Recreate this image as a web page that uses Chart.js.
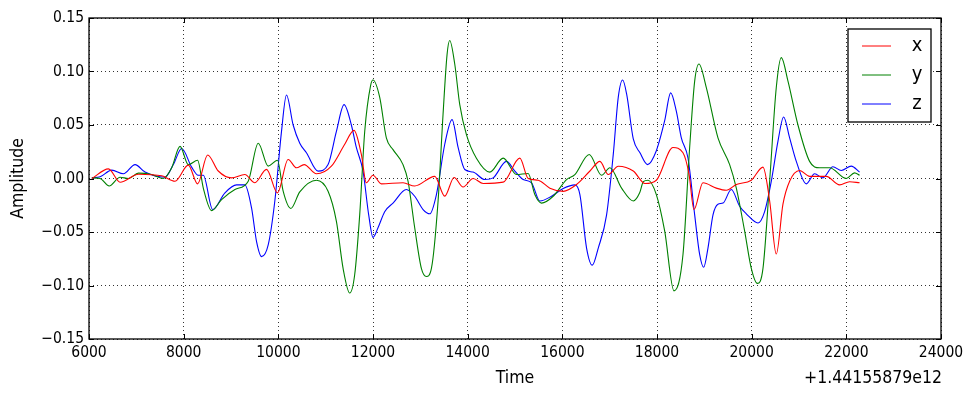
<!DOCTYPE html>
<html>
<head>
<meta charset="utf-8">
<script src="https://cdn.jsdelivr.net/npm/chart.js@4/dist/chart.umd.min.js"></script>
<style>
  html, body { margin: 0; padding: 0; background: #fff; }
  #wrap { width: 976px; height: 397px; }
</style>
</head>
<body>
<div id="wrap"><canvas id="chart" width="976" height="397"></canvas></div>
<script>
// time offsets (add 1.44155879e12) and amplitudes
const timeX = [6060, 6411, 6657, 7044, 7536, 7817, 8098, 8295, 8506, 8731, 9012, 9293, 9504, 9750, 9982, 10207, 10383, 10545, 10805, 11121, 11403, 11599, 11754, 11859, 12000, 12176, 12634, 12881, 13304, 13516, 13713, 13904, 14115, 14327, 14750, 15102, 15278, 15490, 15737, 16018, 16300, 16583, 16794, 16970, 17182, 17499, 17746, 17986, 18338, 18549, 18676, 18781, 18971, 19253, 19464, 19676, 19992, 20239, 20380, 20520, 20661, 20802, 21013, 21224, 21576, 21858, 22069, 22280];
const ampX = [0.0, 0.009, -0.0035, 0.004, 0.0025, -0.0025, 0.0125, -0.005, 0.022, 0.007, 0.0006, 0.0037, -0.004, 0.0085, -0.0134, 0.0178, 0.01, 0.013, 0.0044, 0.0115, 0.032, 0.045, 0.0225, -0.004, 0.003, -0.005, -0.004, -0.007, 0.002, -0.0165, 0.001, -0.008, 0.0, -0.0047, -0.0034, 0.019, 0.0, -0.0016, -0.009, -0.012, -0.0056, 0.007, 0.016, 0.0037, 0.0115, 0.007, -0.0047, -0.0016, 0.029, 0.024, 0.004, -0.029, -0.004, -0.009, -0.011, -0.0056, -0.0016, 0.0106, -0.021, -0.0706, -0.024, -0.0025, 0.0075, 0.002, 0.002, -0.006, -0.003, -0.004];

const timeY = [6060, 6235, 6425, 6657, 6833, 7044, 7325, 7571, 7747, 7923, 8098, 8295, 8415, 8590, 8801, 9083, 9364, 9575, 9786, 9982, 10102, 10264, 10453, 10805, 11051, 11227, 11368, 11508, 11613, 11719, 11825, 11950, 12000, 12141, 12282, 12423, 12634, 12740, 12881, 13022, 13128, 13234, 13375, 13480, 13565, 13621, 13727, 13833, 13974, 14185, 14468, 14750, 15032, 15278, 15419, 15560, 15807, 16089, 16265, 16568, 16829, 17005, 17252, 17499, 17634, 17711, 17810, 17986, 18162, 18359, 18549, 18690, 18796, 18887, 19042, 19288, 19535, 19676, 19851, 19992, 20119, 20239, 20380, 20520, 20626, 20767, 20978, 21224, 21435, 21646, 22000, 22174, 22280];
const ampY = [0.0006, 0.0, -0.007, 0.0012, 0.0, 0.005, 0.0037, 0.0, 0.01, 0.03, 0.013, 0.017, -0.009, -0.03, -0.0197, -0.0103, -0.0025, 0.033, 0.0116, 0.017, -0.0119, -0.028, -0.0125, -0.0016, -0.0119, -0.04, -0.084, -0.107, -0.09, -0.034, 0.044, 0.087, 0.092, 0.076, 0.038, 0.027, 0.013, -0.0025, -0.046, -0.084, -0.0916, -0.084, -0.021, 0.06, 0.116, 0.129, 0.107, 0.069, 0.041, 0.019, 0.006, 0.019, 0.0037, 0.0047, -0.015, -0.023, -0.0166, -0.001, 0.0037, 0.0225, 0.003, 0.01, -0.009, -0.021, -0.0134, -0.003, -0.0016, -0.015, -0.049, -0.105, -0.071, 0.029, 0.091, 0.107, 0.085, 0.038, 0.013, -0.009, -0.049, -0.084, -0.098, -0.084, -0.0025, 0.085, 0.113, 0.091, 0.05, 0.016, 0.01, 0.01, 0.0, 0.0053, 0.003];

const timeZ = [6060, 6235, 6481, 6727, 6974, 7184, 7606, 7782, 7958, 8169, 8309, 8415, 8612, 8872, 9118, 9293, 9434, 9540, 9645, 9786, 9926, 10067, 10172, 10313, 10453, 10594, 10840, 11051, 11227, 11389, 11543, 11648, 11789, 11909, 12000, 12106, 12247, 12423, 12705, 12881, 13058, 13199, 13340, 13516, 13671, 13798, 13939, 14115, 14362, 14538, 14820, 14997, 15173, 15349, 15525, 15772, 16018, 16265, 16371, 16512, 16632, 16759, 16935, 17076, 17182, 17274, 17358, 17499, 17640, 17800, 17986, 18162, 18289, 18408, 18514, 18655, 18796, 18901, 18986, 19077, 19183, 19288, 19394, 19570, 19746, 19887, 20133, 20274, 20415, 20556, 20675, 20802, 20943, 21154, 21330, 21506, 21717, 21893, 22104, 22280];
const ampZ = [0.0006, 0.0016, 0.0078, 0.0044, 0.013, 0.006, 0.0012, 0.013, 0.028, 0.0106, 0.003, 0.003, -0.029, -0.0134, -0.006, -0.006, -0.0275, -0.059, -0.073, -0.062, -0.021, 0.044, 0.078, 0.05, 0.033, 0.024, 0.0069, 0.013, 0.044, 0.069, 0.05, 0.029, 0.0069, -0.034, -0.055, -0.046, -0.031, -0.023, -0.0103, -0.0166, -0.029, -0.033, -0.015, 0.032, 0.055, 0.029, 0.0084, 0.006, -0.001, 0.0006, 0.016, 0.0069, -0.001, -0.004, -0.021, -0.0166, -0.0094, -0.006, -0.015, -0.065, -0.081, -0.065, -0.034, 0.0225, 0.076, 0.092, 0.079, 0.037, 0.024, 0.013, 0.026, 0.054, 0.08, 0.063, 0.038, 0.019, -0.034, -0.071, -0.083, -0.065, -0.034, -0.024, -0.023, -0.0103, -0.026, -0.033, -0.0416, -0.031, -0.0025, 0.035, 0.0575, 0.038, 0.016, -0.005, 0.0044, 0.0006, 0.011, 0.0075, 0.0116, 0.006];

const seriesNames = ['x', 'y', 'z'];
const xTicks = [6000, 8000, 10000, 12000, 14000, 16000, 18000, 20000, 22000, 24000];
const yTicks = [-0.15, -0.10, -0.05, 0.00, 0.05, 0.10, 0.15];
const offsetLabel = '+1.44155879e12';

const colors = ['#ff0000', '#008000', '#0000ff'];
const FONT = "'DejaVu Sans Condensed', 'DejaVu Sans', sans-serif";

function pts(ts, vs) {
    return ts.map((t, i) => ({ x: t, y: vs[i] }));
}

const allSeries = [pts(timeX, ampX), pts(timeY, ampY), pts(timeZ, ampZ)];

// frame, inward ticks, axis titles and the boxed legend, matplotlib style
const decor = {
    id: 'decor',
    afterDatasetsDraw(chart) {
        const ctx = chart.ctx;
        const a = chart.chartArea;
        const xs = chart.scales.x;
        const ys = chart.scales.y;
        ctx.save();
        ctx.strokeStyle = '#000';
        ctx.lineWidth = 1;
        ctx.beginPath();
        xTicks.forEach(v => {
            const p = Math.round(xs.getPixelForValue(v)) + 0.5;
            ctx.moveTo(p, a.bottom); ctx.lineTo(p, a.bottom - 5);
            ctx.moveTo(p, a.top); ctx.lineTo(p, a.top + 5);
        });
        yTicks.forEach(v => {
            const p = Math.round(ys.getPixelForValue(v)) + 0.5;
            ctx.moveTo(a.left, p); ctx.lineTo(a.left + 5, p);
            ctx.moveTo(a.right, p); ctx.lineTo(a.right - 5, p);
        });
        ctx.stroke();

        ctx.lineWidth = 1.3;
        ctx.strokeRect(a.left, a.top, a.right - a.left, a.bottom - a.top);

        // legend
        const lx = 848, ly = 29, lw = 83, lh = 93;
        ctx.fillStyle = '#fff';
        ctx.fillRect(lx, ly, lw, lh);
        ctx.lineWidth = 1.3;
        ctx.strokeRect(lx, ly, lw, lh);
        ctx.font = '20px ' + FONT;
        ctx.textAlign = 'center';
        ctx.textBaseline = 'middle';
        seriesNames.forEach((name, i) => {
            const yy = 46 + i * 29;
            ctx.strokeStyle = colors[i];
            ctx.lineWidth = 1;
            ctx.beginPath();
            ctx.moveTo(862, yy); ctx.lineTo(891, yy);
            ctx.stroke();
            ctx.fillStyle = '#000';
            ctx.fillText(name, 917, yy);
        });

        // axis titles
        ctx.font = '17.5px ' + FONT;
        ctx.fillStyle = '#000';
        ctx.textAlign = 'center';
        ctx.textBaseline = 'middle';
        ctx.fillText('Time', (a.left + a.right) / 2, 378);
        ctx.textAlign = 'right';
        ctx.fillText(offsetLabel, a.right + 1, 378);
        ctx.save();
        ctx.translate(18, (a.top + a.bottom) / 2);
        ctx.rotate(-Math.PI / 2);
        ctx.textAlign = 'center';
        ctx.fillText('Amplitude', 0, 0);
        ctx.restore();
        ctx.restore();
    }
};

new Chart(document.getElementById('chart'), {
    type: 'line',
    data: {
        datasets: seriesNames.map((name, i) => ({
            label: name,
            data: allSeries[i],
            borderColor: colors[i],
            borderWidth: 1.1,
            pointRadius: 0,
            fill: false,
            cubicInterpolationMode: 'monotone'
        }))
    },
    options: {
        responsive: false,
        animation: false,
        layout: { padding: { left: 0, top: 18, right: 35, bottom: 0 } },
        plugins: { legend: { display: false }, tooltip: { enabled: false } },
        scales: {
            x: {
                type: 'linear',
                min: 6000,
                max: 24000,
                afterBuildTicks: s => { s.ticks = xTicks.map(v => ({ value: v })); },
                afterFit: s => { s.height = 58; },
                border: { display: false, dash: [1, 3] },
                grid: { color: 'rgba(0,0,0,0.8)', lineWidth: 1, drawTicks: false },
                ticks: { color: '#000', padding: 5, maxRotation: 0, font: { family: FONT, size: 15.5 }, callback: v => String(v) }
            },
            y: {
                min: -0.15,
                max: 0.15,
                afterBuildTicks: s => { s.ticks = yTicks.map(v => ({ value: v })); },
                afterFit: s => { s.width = 89; },
                border: { display: false, dash: [1, 3] },
                grid: { color: 'rgba(0,0,0,0.8)', lineWidth: 1, drawTicks: false },
                ticks: { color: '#000', padding: 5, font: { family: FONT, size: 15.5 }, callback: v => v.toFixed(2).replace('-', '\u2212') }
            }
        }
    },
    plugins: [decor]
});
</script>
</body>
</html>
